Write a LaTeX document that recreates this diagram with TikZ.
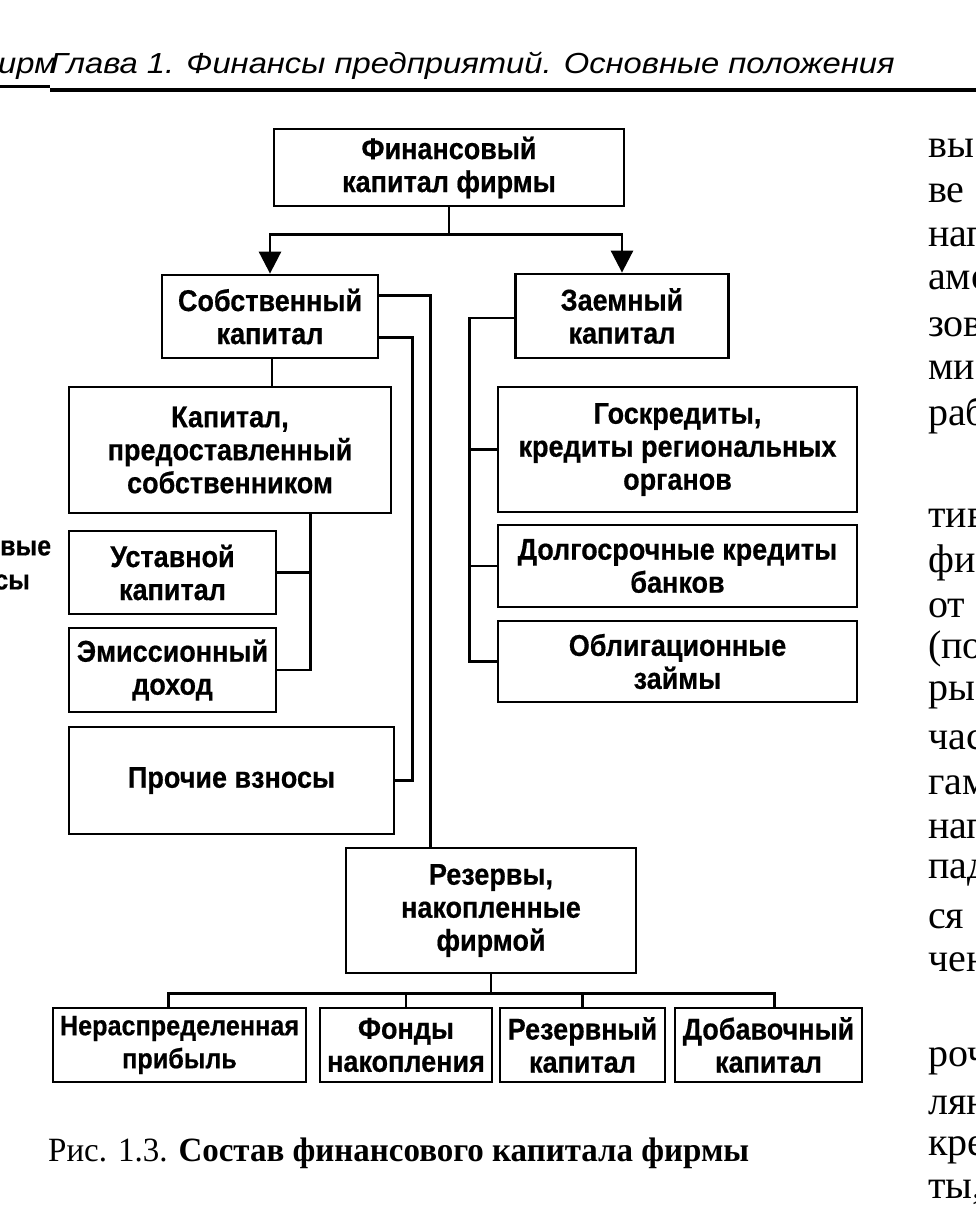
\documentclass[tikz,border=0pt]{standalone}
\usepackage{fontspec}
\setmainfont{Liberation Sans}
\newfontfamily\seriffont{Liberation Serif}
\newfontfamily\boxfont[FakeStretch=0.9,FakeBold=0.5]{Liberation Sans}
\newfontfamily\hdrfont[FakeStretch=1.13]{Liberation Sans}
\newfontfamily\capfont[FakeStretch=0.97]{Liberation Serif}
\usetikzlibrary{arrows.meta,calc,positioning}
\tikzset{
  x=1pt,y=-1pt,
  box/.style={draw,line width=2.8pt,align=center,inner sep=0pt,
    font=\boxfont\bfseries\fontsize{30}{33}\selectfont},
  conn/.style={line width=2.8pt},
  arr/.style={conn,-{Triangle[length=22pt,width=22pt]}},
  coltext/.style={anchor=west,inner sep=0pt,font=\seriffont\fontsize{40}{40}\selectfont}
}
\begin{document}
\begin{tikzpicture}
\useasboundingbox (0,0) rectangle (976,1216);
\fill[white] (0,0) rectangle (976,1216);
% header
\node[anchor=base west,inner sep=0pt,font=\hdrfont\itshape\fontsize{29}{29}\selectfont] (hdl) at (-2,73) {ирм};
\node[anchor=base west,inner sep=0pt,font=\hdrfont\itshape\fontsize{29}{29}\selectfont] (hd) at (50,73) {Глава 1. Финансы предприятий. Основные положения};
\draw[line width=3pt] (0,86) -- (50,86);
\draw[line width=3.2pt] (50,90) -- (976,90);
% boxes
\node[box,minimum width=350pt,minimum height=77pt] (fin) at (449,167.5) {Финансовый\\капитал фирмы};
\node[box,minimum width=216pt,minimum height=83pt] (sob) at (270,316.5) {Собственный\\капитал};
\node[box,minimum width=213pt,minimum height=84pt] (zaem) at (622,316) {Заемный\\капитал};
\node[box,minimum width=322pt,minimum height=126pt] (kap) at (230,450) {Капитал,\\предоставленный\\собственником};
\node[box,minimum width=207pt,minimum height=83pt] (ust) at (172.5,572.5) {Уставной\\капитал};
\node[box,minimum width=207pt,minimum height=84pt] (emi) at (172.5,670) {Эмиссионный\\доход};
\node[box,minimum width=325pt,minimum height=107pt] (pro) at (231.5,780.5) {Прочие взносы};
\node[box,minimum width=359pt,minimum height=125pt] (gos) at (677.5,449.5) {Госкредиты,\\кредиты региональных\\органов};
\node[box,minimum width=359pt,minimum height=82pt] (dol) at (677.5,566) {Долгосрочные кредиты\\банков};
\node[box,minimum width=359pt,minimum height=81pt] (obl) at (677.5,661.5) {Облигационные\\займы};
\node[box,minimum width=290pt,minimum height=125pt] (rez) at (491,910.5) {Резервы,\\накопленные\\фирмой};
\node[box,minimum width=253pt,minimum height=74pt,font=\boxfont\bfseries\fontsize{28}{33}\selectfont] (ner) at (179.5,1045) {Нераспределенная\\прибыль};
\node[box,minimum width=172pt,minimum height=74pt] (fon) at (406,1045) {Фонды\\накопления};
\node[box,minimum width=165pt,minimum height=74pt] (rk) at (582.5,1045) {Резервный\\капитал};
\node[box,minimum width=187pt,minimum height=74pt] (dob) at (768.5,1045) {Добавочный\\капитал};
% connectors
\draw[arr] (fin.south) -- ++(0,27) -| (sob.north);
\draw[arr] (fin.south) -- ++(0,27) -| (zaem.north);
\draw[conn] ($(sob.north east)+(0,22)$) -| ($(rez.north west)+(86,0)$);
\draw[conn] ($(sob.north east)+(0,64)$) -| ($(pro.east)+(17,0)$) -- (pro.east);
\draw[conn] ($(sob.south)+(2,0)$) coordinate (s1) -- (s1 |- kap.north);
\draw[conn] ($(kap.south west)+(243,0)$) coordinate (k1) -- (k1 |- emi.east) -- (emi.east);
\draw[conn] (k1 |- ust.east) -- (ust.east);
\draw[conn] ($(zaem.west)+(0,2)$) -- ++(-45,0) coordinate (z1) |- (obl.west);
\draw[conn] (z1 |- gos.west) -- (gos.west);
\draw[conn] (z1 |- dol.west) -- (dol.west);
\draw[conn] (rez.south) -- ++(0,19) coordinate (r1);
\draw[conn] ($(ner.north)+(-11,0)$) coordinate (n1) |- (r1);
\draw[conn] ($(dob.north)+(6,0)$) coordinate (d1) |- (r1);
\draw[conn] (fon.north) -- (fon.north |- r1);
\draw[conn] (rk.north) -- (rk.north |- r1);
% caption
\node[anchor=west,inner sep=0pt,font=\capfont\fontsize{34}{34}\selectfont] (cap) at (48,1153) {Рис. 1.3. \textbf{Состав финансового капитала фирмы}};
% left fragment
\begin{scope}
\clip (0,520) rectangle (50,610);
\node[anchor=west,inner sep=0pt,font=\boxfont\bfseries\fontsize{28}{28}\selectfont] (lf1) at (0,548) {вые};
\end{scope}
\node[anchor=east,inner sep=0pt,font=\boxfont\bfseries\fontsize{28}{28}\selectfont] (lf2) at (30,582) {сы};
% right column fragments
\node[coltext] (c1) at (928,148) {вы};
\node[coltext] (c2) at (928,193) {ве};
\node[coltext] (c3) at (928,237) {нап};
\node[coltext] (c4) at (928,280) {амо};
\node[coltext] (c5) at (928,327) {зов};
\node[coltext] (c6) at (928,370) {ми};
\node[coltext] (c7) at (928,415) {раб};
\node[coltext] (c8) at (928,518) {тив};
\node[coltext] (c9) at (928,563) {фи};
\node[coltext] (c10) at (928,608) {от с};
\node[coltext] (c11) at (928,649) {(по};
\node[coltext] (c12) at (928,695) {ры};
\node[coltext] (c13) at (928,740) {час};
\node[coltext] (c14) at (928,785) {гам};
\node[coltext] (c15) at (928,829) {нап};
\node[coltext] (c16) at (928,873) {пад};
\node[coltext] (c17) at (928,919) {ся};
\node[coltext] (c18) at (928,962) {чен};
\node[coltext] (c19) at (928,1061) {роч};
\node[coltext] (c20) at (928,1106) {лян};
\node[coltext] (c21) at (928,1150) {кре};
\node[coltext] (c22) at (928,1192) {ты,};
\end{tikzpicture}
\end{document}
